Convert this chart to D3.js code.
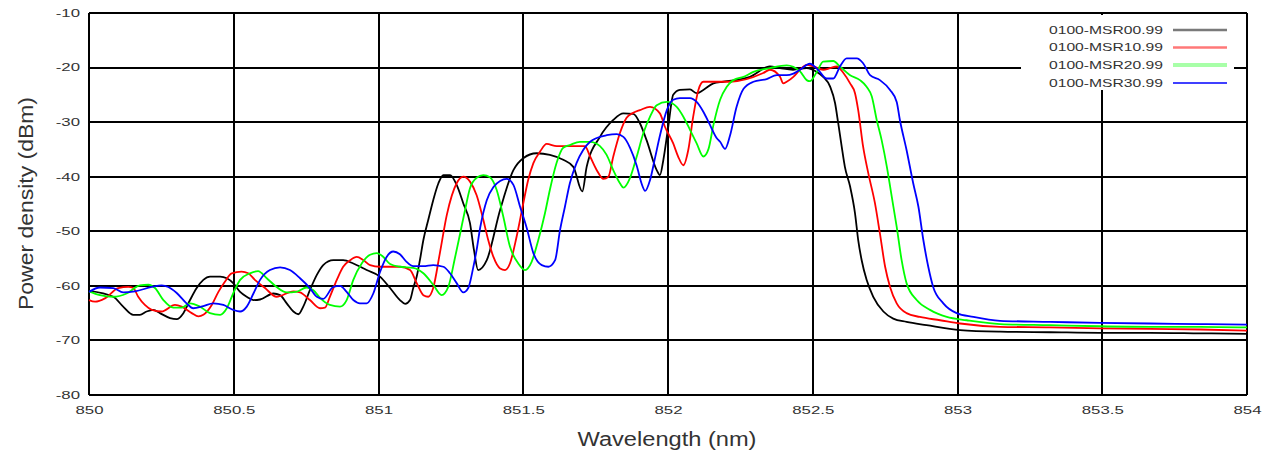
<!DOCTYPE html>
<html>
<head>
<meta charset="utf-8">
<script src="https://d3js.org/d3.v7.min.js"></script>
<style>
  body { margin: 0; background: #fff; }
  svg text { font-family: "Liberation Sans", Arial, sans-serif; fill: #333; }
  .grid line { stroke: #000; stroke-width: 2px; shape-rendering: crispEdges; }
  .trace { fill: none; stroke-width: 1.8px; stroke-linejoin: round; }
</style>
</head>
<body>
<svg id="chart" width="1271" height="453"></svg>
<script>
// values: [wavelength nm, power dBm]
var msr00 = [[850.000,-60.9],[850.084,-62.0],[850.118,-63.8],[850.153,-65.3],[850.176,-65.3],[850.199,-64.7],[850.222,-64.4],[850.245,-65.0],[850.280,-65.9],[850.303,-66.1],[850.326,-65.0],[850.349,-62.6],[850.372,-60.4],[850.395,-58.9],[850.418,-58.3],[850.453,-58.3],[850.476,-58.6],[850.498,-59.5],[850.522,-61.1],[850.545,-62.0],[850.568,-62.6],[850.591,-62.5],[850.637,-61.4],[850.660,-61.7],[850.683,-63.2],[850.706,-64.7],[850.723,-65.2],[850.740,-63.8],[850.763,-60.8],[850.787,-58.0],[850.809,-56.2],[850.844,-55.3],[850.878,-55.3],[850.913,-55.9],[850.959,-57.1],[851.005,-58.3],[851.040,-60.4],[851.074,-62.6],[851.092,-63.3],[851.109,-62.6],[851.120,-60.4],[851.132,-58.3],[851.143,-55.3],[851.155,-51.6],[851.172,-47.9],[851.189,-44.3],[851.207,-41.2],[851.224,-39.7],[851.247,-39.7],[851.270,-41.5],[851.293,-44.9],[851.316,-48.5],[851.330,-53.5],[851.344,-57.1],[851.374,-55.3],[851.420,-46.1],[851.466,-38.8],[851.500,-36.6],[851.546,-35.7],[851.592,-36.0],[851.638,-36.9],[851.673,-38.2],[851.704,-42.7],[851.719,-38.2],[851.765,-32.7],[851.811,-29.6],[851.846,-28.4],[851.880,-28.5],[851.903,-30.2],[851.926,-33.3],[851.961,-38.8],[851.972,-39.7],[851.984,-36.9],[852.001,-30.8],[852.018,-25.0],[852.041,-24.1],[852.076,-24.0],[852.099,-24.7],[852.122,-24.1],[852.157,-22.9],[852.191,-22.6],[852.283,-21.7],[852.352,-19.8],[852.387,-20.1],[852.432,-20.4],[852.479,-20.1],[852.514,-20.8],[852.536,-21.7],[852.560,-23.5],[852.577,-26.5],[852.588,-30.2],[852.600,-34.5],[852.611,-38.2],[852.629,-41.8],[852.646,-46.7],[852.657,-51.6],[852.669,-55.3],[852.686,-58.9],[852.709,-62.0],[852.744,-64.7],[852.778,-66.0],[852.824,-66.6],[852.893,-67.2],[853.009,-68.1],[853.147,-68.4],[853.320,-68.5],[853.492,-68.6],[853.665,-68.6],[853.838,-68.7],[854.000,-68.8]];

var msr10 = [[850.000,-62.6],[850.021,-62.9],[850.055,-62.3],[850.101,-60.4],[850.136,-60.2],[850.153,-60.4],[850.170,-62.0],[850.193,-63.5],[850.217,-64.4],[850.251,-64.7],[850.297,-63.5],[850.320,-63.8],[850.355,-65.0],[850.378,-65.6],[850.395,-65.3],[850.424,-63.5],[850.447,-61.1],[850.470,-59.2],[850.493,-57.7],[850.527,-57.4],[850.550,-57.7],[850.573,-58.9],[850.608,-60.4],[850.648,-62.0],[850.706,-61.0],[850.729,-61.2],[850.763,-62.6],[850.798,-64.1],[850.815,-64.0],[850.832,-62.0],[850.856,-58.9],[850.878,-56.5],[850.902,-55.3],[850.925,-54.7],[850.948,-55.3],[850.971,-56.2],[851.005,-56.5],[851.074,-56.5],[851.109,-57.1],[851.132,-59.5],[851.155,-61.7],[851.172,-62.0],[851.189,-60.4],[851.212,-54.0],[851.236,-47.0],[851.270,-41.2],[851.293,-40.0],[851.316,-40.9],[851.339,-43.4],[851.362,-47.9],[851.379,-51.6],[851.397,-54.7],[851.420,-56.8],[851.437,-57.1],[851.454,-55.9],[851.477,-51.0],[851.500,-44.9],[851.517,-40.6],[851.535,-37.5],[851.558,-35.4],[851.581,-34.0],[851.616,-34.4],[851.661,-34.4],[851.713,-34.4],[851.731,-36.3],[851.754,-38.8],[851.777,-40.4],[851.794,-40.0],[851.811,-36.3],[851.834,-32.0],[851.857,-29.2],[851.880,-28.3],[851.903,-27.8],[851.938,-27.2],[851.972,-28.4],[851.989,-30.8],[852.018,-33.9],[852.035,-36.3],[852.053,-37.9],[852.070,-35.1],[852.087,-29.0],[852.105,-24.1],[852.122,-22.6],[852.145,-22.6],[852.214,-22.6],[852.329,-21.0],[852.352,-20.4],[852.387,-21.7],[852.398,-22.9],[852.410,-22.6],[852.433,-21.7],[852.456,-20.4],[852.479,-19.5],[852.502,-19.8],[852.536,-20.4],[852.560,-20.1],[852.583,-19.8],[852.606,-21.0],[852.629,-22.9],[852.646,-24.7],[852.657,-27.8],[852.674,-34.5],[852.692,-39.4],[852.715,-44.9],[852.732,-50.4],[852.750,-56.5],[852.767,-60.2],[852.790,-63.2],[852.824,-65.0],[852.870,-65.7],[852.940,-66.3],[853.009,-66.9],[853.147,-67.5],[853.320,-67.6],[853.492,-67.8],[853.665,-67.9],[853.838,-68.0],[854.000,-68.2]];

var msr20 = [[850.000,-61.0],[850.038,-61.7],[850.084,-62.0],[850.130,-61.4],[850.176,-59.9],[850.205,-59.8],[850.228,-60.4],[850.257,-62.6],[850.291,-64.0],[850.320,-64.0],[850.349,-63.2],[850.383,-63.8],[850.418,-65.0],[850.453,-65.3],[850.476,-64.1],[850.498,-61.4],[850.522,-58.9],[850.556,-57.7],[850.584,-57.3],[850.614,-58.6],[850.648,-60.2],[850.683,-61.2],[850.715,-61.1],[850.752,-60.3],[850.775,-60.8],[850.798,-62.2],[850.832,-63.5],[850.867,-63.8],[850.890,-62.6],[850.913,-58.9],[850.942,-55.9],[850.971,-54.3],[850.994,-54.0],[851.017,-54.7],[851.040,-56.0],[851.074,-56.5],[851.120,-56.7],[851.155,-57.7],[851.189,-59.8],[851.218,-61.7],[851.241,-60.2],[851.264,-54.9],[851.282,-50.4],[851.299,-46.1],[851.316,-42.1],[851.339,-40.2],[851.362,-39.7],[851.385,-40.1],[851.408,-42.4],[851.431,-47.3],[851.454,-52.8],[851.483,-55.9],[851.506,-57.1],[851.529,-55.6],[851.552,-51.6],[851.575,-46.7],[851.592,-42.4],[851.615,-37.5],[851.638,-34.7],[851.661,-34.2],[851.696,-33.6],[851.731,-33.6],[851.765,-34.4],[851.788,-36.0],[851.811,-38.8],[851.834,-41.2],[851.846,-42.0],[851.869,-40.2],[851.892,-36.3],[851.915,-32.0],[851.938,-29.0],[851.961,-26.9],[851.996,-26.3],[852.030,-27.2],[852.053,-29.0],[852.076,-31.4],[852.099,-33.9],[852.122,-36.3],[852.140,-34.9],[852.157,-30.5],[852.180,-25.9],[852.203,-23.5],[852.226,-22.3],[852.261,-21.7],[852.295,-20.8],[852.352,-20.1],[852.410,-19.6],[852.456,-20.7],[852.479,-22.3],[852.490,-22.5],[852.514,-20.8],[852.536,-18.9],[852.571,-18.8],[852.594,-19.8],[852.629,-21.4],[852.663,-22.3],[852.686,-23.5],[852.704,-25.3],[852.721,-29.6],[852.738,-33.3],[852.756,-38.2],[852.773,-43.7],[852.790,-49.2],[852.807,-55.3],[852.824,-59.5],[852.859,-62.6],[852.905,-64.4],[852.963,-65.7],[853.032,-66.3],[853.147,-67.0],[853.320,-67.2],[853.492,-67.4],[853.665,-67.5],[853.838,-67.5],[854.000,-67.6]];

var msr30 = [[850.000,-61.1],[850.038,-60.3],[850.084,-60.4],[850.118,-61.2],[850.159,-61.0],[850.217,-60.2],[850.251,-59.9],[850.274,-60.2],[850.303,-61.3],[850.337,-63.2],[850.360,-64.1],[850.395,-63.7],[850.429,-63.2],[850.464,-63.5],[850.498,-64.4],[850.522,-64.7],[850.545,-63.8],[850.568,-61.4],[850.591,-58.9],[850.625,-57.1],[850.660,-56.6],[850.694,-57.1],[850.729,-58.6],[850.763,-60.4],[850.787,-62.0],[850.809,-62.4],[850.844,-60.2],[850.867,-60.0],[850.890,-61.1],[850.913,-62.6],[850.936,-63.2],[850.959,-63.2],[850.982,-61.4],[851.005,-57.5],[851.028,-54.7],[851.051,-53.7],[851.074,-54.2],[851.097,-55.6],[851.120,-56.4],[851.155,-56.4],[851.189,-56.2],[851.224,-56.5],[851.247,-57.7],[851.270,-59.5],[851.293,-61.2],[851.310,-60.4],[851.327,-56.7],[851.339,-53.4],[851.351,-49.4],[851.374,-44.3],[851.397,-41.9],[851.420,-40.8],[851.443,-40.4],[851.466,-41.5],[851.489,-45.5],[851.512,-49.4],[851.535,-54.0],[851.564,-56.2],[851.587,-56.5],[851.610,-55.3],[851.627,-49.8],[851.644,-45.5],[851.661,-41.2],[851.684,-37.5],[851.707,-35.1],[851.731,-33.6],[851.754,-32.9],[851.788,-32.4],[851.823,-32.2],[851.846,-32.7],[851.869,-34.7],[851.892,-38.0],[851.909,-41.3],[851.921,-42.6],[851.938,-40.6],[851.955,-36.6],[851.972,-32.5],[851.996,-27.8],[852.018,-25.9],[852.041,-25.6],[852.076,-25.6],[852.099,-26.3],[852.122,-28.1],[852.145,-30.5],[852.168,-32.9],[852.180,-33.6],[852.197,-34.9],[852.214,-32.5],[852.237,-27.2],[852.261,-23.9],[852.295,-22.6],[852.341,-22.1],[852.376,-21.4],[852.410,-21.4],[852.433,-21.1],[852.456,-20.4],[852.490,-19.3],[852.518,-20.4],[852.548,-22.0],[852.571,-22.0],[852.594,-19.8],[852.617,-18.3],[852.652,-18.3],[852.674,-19.2],[852.698,-21.4],[852.732,-22.3],[852.767,-24.1],[852.790,-26.3],[852.801,-29.6],[852.824,-35.1],[852.847,-41.2],[852.865,-45.5],[852.882,-51.6],[852.899,-56.5],[852.916,-60.2],[852.951,-63.2],[852.997,-65.0],[853.055,-65.7],[853.147,-66.4],[853.320,-66.6],[853.492,-66.8],[853.665,-66.9],[853.838,-67.0],[854.000,-67.1]];

var seriesNames = ["0100-MSR00.99", "0100-MSR10.99", "0100-MSR20.99", "0100-MSR30.99"];
var seriesData = [msr00, msr10, msr20, msr30];
var seriesColors = ["#000000", "#ff0000", "#00ff00", "#0000ff"];
var legendColors = ["#7a7a7a", "#ff7878", "#a8ffa8", "#0000ff"];
var xTicks = [850, 850.5, 851, 851.5, 852, 852.5, 853, 853.5, 854];
var yTicks = [-80, -70, -60, -50, -40, -30, -20, -10];

var svg = d3.select("#chart"),
    margin = {top: 13, right: 24, bottom: 58, left: 89},
    width = +svg.attr("width") - margin.left - margin.right,
    height = +svg.attr("height") - margin.top - margin.bottom;

var x = d3.scaleLinear().domain([850, 854]).range([0, width]);
var y = d3.scaleLinear().domain([-80, -10]).range([height, 0]);

var g = svg.append("g")
    .attr("transform", "translate(" + margin.left + "," + margin.top + ")");

// widen text the way the original render did
function stretch(sel, k) {
    sel.each(function () {
        var w = this.getComputedTextLength();
        d3.select(this).attr("textLength", w * k).attr("lengthAdjust", "spacingAndGlyphs");
    });
}

var grid = g.append("g").attr("class", "grid");
grid.selectAll(".vx").data(xTicks).enter().append("line")
    .attr("x1", function (d) { return x(d); })
    .attr("x2", function (d) { return x(d); })
    .attr("y1", 0).attr("y2", height);
grid.selectAll(".hy").data(yTicks).enter().append("line")
    .attr("x1", 0).attr("x2", width)
    .attr("y1", function (d) { return y(d); })
    .attr("y2", function (d) { return y(d); });

var yAxis = g.append("g")
    .call(d3.axisLeft(y).tickValues(yTicks).tickSize(0).tickPadding(9)
        .tickFormat(function (d) { return String(d); }));
var xAxis = g.append("g")
    .attr("transform", "translate(0," + height + ")")
    .call(d3.axisBottom(x).tickValues(xTicks).tickSize(0).tickPadding(12)
        .tickFormat(function (d) { return String(d); }));
[yAxis, xAxis].forEach(function (a) {
    a.select(".domain").remove();
    a.selectAll("text").attr("font-size", "10.5px").attr("font-family", null).attr("fill", "#333");
    stretch(a.selectAll("text"), 1.6);
});

var line = d3.line()
    .x(function (d) { return x(d[0]); })
    .y(function (d) { return y(d[1]); })
    .curve(d3.curveMonotoneX);

g.selectAll(".trace").data(seriesData).enter().append("path")
    .attr("class", "trace")
    .attr("stroke", function (d, i) { return seriesColors[i]; })
    .attr("d", line);

// legend box (hides the grid behind it)
var lg = svg.append("g");
lg.append("rect").attr("x", 1021).attr("y", 15).attr("width", 213).attr("height", 75).attr("fill", "#fff");
var rows = [30, 47.5, 65, 83];
seriesNames.forEach(function (name, i) {
    lg.append("text")
        .attr("x", 1049).attr("y", rows[i]).attr("dy", "0.35em")
        .attr("font-size", "11px")
        .attr("textLength", 114).attr("lengthAdjust", "spacingAndGlyphs")
        .text(name);
    lg.append("line")
        .attr("x1", 1173).attr("x2", 1227)
        .attr("y1", rows[i]).attr("y2", rows[i])
        .attr("stroke", legendColors[i])
        .attr("stroke-width", i === 2 ? 4 : (i === 3 ? 1.6 : 2.6));
});

// axis titles
svg.append("text")
    .attr("x", margin.left + width / 2 - 1).attr("y", 446)
    .attr("text-anchor", "middle").attr("font-size", "20px")
    .attr("textLength", 179).attr("lengthAdjust", "spacingAndGlyphs")
    .text("Wavelength (nm)");
svg.append("text")
    .attr("transform", "translate(33,203.5) rotate(-90)")
    .attr("text-anchor", "middle").attr("font-size", "20px")
    .attr("textLength", 213).attr("lengthAdjust", "spacingAndGlyphs")
    .text("Power density (dBm)");
</script>
</body>
</html>
